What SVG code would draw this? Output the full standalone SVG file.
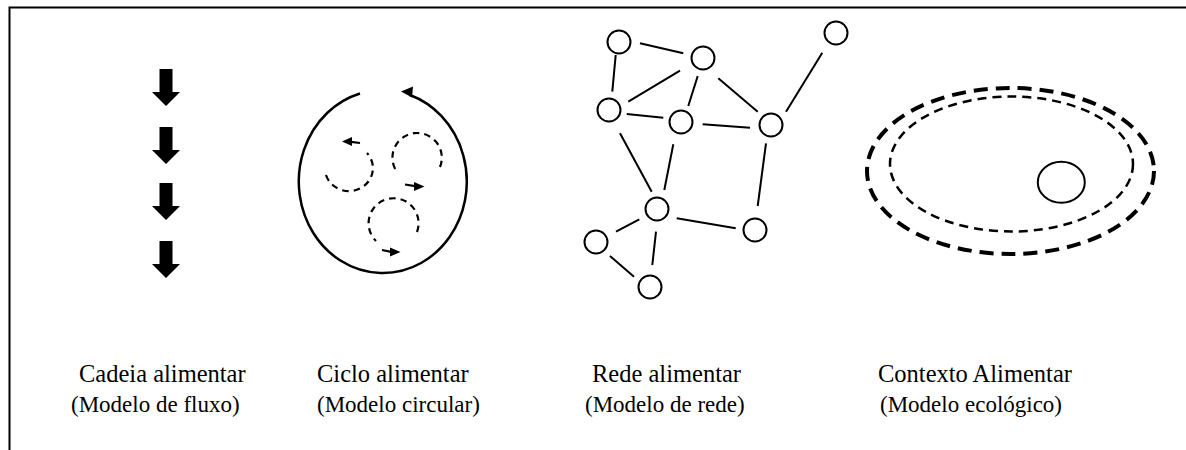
<svg xmlns="http://www.w3.org/2000/svg" width="1186" height="450" viewBox="0 0 1186 450">
  <style>
    .frame { fill: none; stroke: #000; stroke-width: 2; }
    .block { fill: #000; }
    .ring { fill: none; stroke: #000; stroke-width: 2.5; }
    .dash { fill: none; stroke: #000; stroke-width: 2.2; stroke-dasharray: 6.5 5; }
    .head { fill: #000; }
    .tail { stroke: #000; stroke-width: 2.2; }
    .node { fill: #fff; stroke: #000; stroke-width: 2; }
    .edge { stroke: #000; stroke-width: 2; stroke-linecap: butt; }
    .outer { fill: none; stroke: #000; stroke-width: 4; stroke-dasharray: 14 8; }
    .inner { fill: none; stroke: #000; stroke-width: 2.5; stroke-dasharray: 9 6; }
    .title { font-family: "Liberation Serif", "Times New Roman", serif; font-size: 24.5px; fill: #000; }
    .sub { font-family: "Liberation Serif", "Times New Roman", serif; font-size: 23px; fill: #000; }
  </style>
  <defs>
    <path id="downArrow" d="M -6.5 0 H 6.5 V 23 H 14 L 0 37 L -14 23 H -6.5 Z"/>
  </defs>

  <rect width="1186" height="450" fill="#fff"/>

  <!-- frame: top and left rules -->
  <g id="frame">
    <path class="frame" d="M 9.5 450 V 7.5 H 1186"/>
  </g>

  <!-- food chain: stacked block arrows -->
  <g id="chain">
    <use href="#downArrow" class="block" x="166" y="69"/>
    <use href="#downArrow" class="block" x="166" y="127"/>
    <use href="#downArrow" class="block" x="166" y="183"/>
    <use href="#downArrow" class="block" x="166" y="241"/>
  </g>

  <!-- food cycle: outer ring with three inner loops -->
  <g id="cycle">
    <path class="ring" d="M 360 93.5 A 84 91.5 0 1 0 410 95"/>
    <polygon class="head" points="401,91.5 413,86.5 412,97.5"/>
    <!-- loop 1 -->
    <path class="dash" d="M 326 175 A 24 23 0 1 0 367 153"/>
    <polygon class="head" points="342,141.5 352,137 352,146"/>
    <line class="tail" x1="351" y1="141.8" x2="360" y2="143"/>
    <!-- loop 2 -->
    <path class="dash" d="M 440 167 A 24.7 24.7 0 1 0 397 172"/>
    <polygon class="head" points="424.5,186.5 414,182 414,191"/>
    <line class="tail" x1="405" y1="184.5" x2="415" y2="186.2"/>
    <!-- loop 3 -->
    <path class="dash" d="M 417 232 A 25 25 0 1 0 376 241"/>
    <polygon class="head" points="400.5,252 390,247.5 390,256.5"/>
    <line class="tail" x1="382" y1="250" x2="391" y2="251.8"/>
  </g>

  <!-- food web: links -->
  <g id="links">
    <line class="edge" x1="640" y1="43.3" x2="683.3" y2="53.3"/>
    <line class="edge" x1="615.7" y1="55" x2="612.3" y2="91.7"/>
    <line class="edge" x1="680" y1="70.7" x2="628.3" y2="101.7"/>
    <line class="edge" x1="697.7" y1="76" x2="688.3" y2="106"/>
    <line class="edge" x1="718.3" y1="78.3" x2="757.7" y2="111.7"/>
    <line class="edge" x1="822.3" y1="52.7" x2="786" y2="111.7"/>
    <line class="edge" x1="626.7" y1="114" x2="663.3" y2="117.7"/>
    <line class="edge" x1="702.7" y1="124.3" x2="750" y2="127.7"/>
    <line class="edge" x1="620" y1="133.3" x2="651.7" y2="191.7"/>
    <line class="edge" x1="673.3" y1="144.3" x2="664.3" y2="190"/>
    <line class="edge" x1="766" y1="143.3" x2="757.7" y2="206"/>
    <line class="edge" x1="676.7" y1="218.3" x2="735.7" y2="228.3"/>
    <line class="edge" x1="639.3" y1="219.3" x2="616" y2="231.7"/>
    <line class="edge" x1="656" y1="231.7" x2="652.3" y2="265"/>
    <line class="edge" x1="610" y1="256" x2="634" y2="276.7"/>
  </g>

  <!-- food web: species -->
  <g id="n1"><circle class="node" cx="619" cy="42" r="11.5"/></g>
  <g id="n2"><circle class="node" cx="703" cy="58" r="11.5"/></g>
  <g id="n3"><circle class="node" cx="836" cy="33" r="11.5"/></g>
  <g id="n4"><circle class="node" cx="609" cy="110" r="11.5"/></g>
  <g id="n5"><circle class="node" cx="681" cy="122" r="11.5"/></g>
  <g id="n6"><circle class="node" cx="771" cy="125" r="11.5"/></g>
  <g id="n7"><circle class="node" cx="657" cy="209" r="11.5"/></g>
  <g id="n8"><circle class="node" cx="755" cy="230" r="11.5"/></g>
  <g id="n9"><circle class="node" cx="596" cy="242" r="11.5"/></g>
  <g id="n10"><circle class="node" cx="650" cy="287" r="11.5"/></g>

  <!-- food context: nested environments -->
  <g id="context">
    <ellipse class="outer" cx="1010.5" cy="171" rx="143.5" ry="83"/>
    <ellipse class="inner" cx="1011.5" cy="164" rx="121.5" ry="67.5"/>
    <ellipse fill="none" stroke="#000" stroke-width="2" cx="1061.3" cy="182.2" rx="23.5" ry="20.5"/>
  </g>

  <!-- captions -->
  <g id="captions">
    <text class="title" x="79" y="382">Cadeia alimentar</text>
    <text class="sub" x="71" y="412">(Modelo de fluxo)</text>
    <text class="title" x="317" y="382">Ciclo alimentar</text>
    <text class="sub" x="317" y="412">(Modelo circular)</text>
    <text class="title" x="592" y="382">Rede alimentar</text>
    <text class="sub" x="585" y="412">(Modelo de rede)</text>
    <text class="title" x="878" y="382">Contexto Alimentar</text>
    <text class="sub" x="880" y="412">(Modelo ecológico)</text>
  </g>
</svg>
